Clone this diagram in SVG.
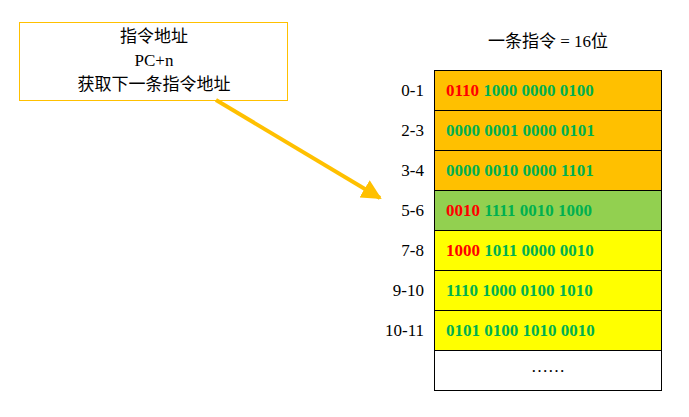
<svg xmlns="http://www.w3.org/2000/svg" width="689" height="417" viewBox="0 0 689 417">
<style>
.t{font-family:"Liberation Serif","Noto Sans CJK SC",serif;font-size:17px;fill:#000}
.lab{text-anchor:end}
.b{font-family:"Liberation Serif",serif;font-size:17px;font-weight:bold;fill:#00B050}
.r{fill:#FF0000}
.row{stroke:#000;stroke-width:1}
</style>
<defs><marker id="ah" viewBox="0 0 10 10" refX="9" refY="5" markerWidth="5" markerHeight="5" orient="auto"><path d="M0,0L10,5L0,10z" fill="#FFC000"/></marker></defs>
<rect width="689" height="417" fill="#fff"/>
<g id="note">
<rect x="19.5" y="22.5" width="268" height="78" fill="#fff" stroke="#FFC000"/>
<text class="t" x="154" y="42" text-anchor="middle">指令地址</text>
<text class="t" x="154" y="66" text-anchor="middle">PC+n</text>
<text class="t" x="154" y="90" text-anchor="middle">获取下一条指令地址</text>
</g>
<g id="connectors">
<line x1="216" y1="100" x2="380" y2="198" stroke="#FFC000" stroke-width="4" marker-end="url(#ah)"/>
</g>
<text class="t" x="548" y="47" text-anchor="middle">一条指令 = 16位</text>
<g id="r0"><rect class="row" x="434.5" y="70.5" width="227" height="40" fill="#FFC000"/><text class="t lab" x="424" y="96">0-1</text><text class="b" x="446" y="96"><tspan class="r">0110</tspan> 1000  0000  0100</text></g>
<g id="r1"><rect class="row" x="434.5" y="110.5" width="227" height="40" fill="#FFC000"/><text class="t lab" x="424" y="136">2-3</text><text class="b" x="446" y="136">0000  0001  0000  0101</text></g>
<g id="r2"><rect class="row" x="434.5" y="150.5" width="227" height="40" fill="#FFC000"/><text class="t lab" x="424" y="176">3-4</text><text class="b" x="446" y="176">0000  0010  0000  1101</text></g>
<g id="r3"><rect class="row" x="434.5" y="190.5" width="227" height="40" fill="#92D050"/><text class="t lab" x="424" y="216">5-6</text><text class="b" x="446" y="216"><tspan class="r">0010</tspan>  1111  0010  1000</text></g>
<g id="r4"><rect class="row" x="434.5" y="230.5" width="227" height="40" fill="#FFFF00"/><text class="t lab" x="424" y="256">7-8</text><text class="b" x="446" y="256"><tspan class="r">1000</tspan>  1011  0000  0010</text></g>
<g id="r5"><rect class="row" x="434.5" y="270.5" width="227" height="40" fill="#FFFF00"/><text class="t lab" x="424" y="296">9-10</text><text class="b" x="446" y="296">1110  1000  0100  1010</text></g>
<g id="r6"><rect class="row" x="434.5" y="310.5" width="227" height="40" fill="#FFFF00"/><text class="t lab" x="424" y="336">10-11</text><text class="b" x="446" y="336">0101  0100  1010  0010</text></g>
<g id="r7"><rect class="row" x="434.5" y="350.5" width="227" height="40" fill="#fff"/><text class="t" x="548" y="372" text-anchor="middle">……</text></g>
</svg>
